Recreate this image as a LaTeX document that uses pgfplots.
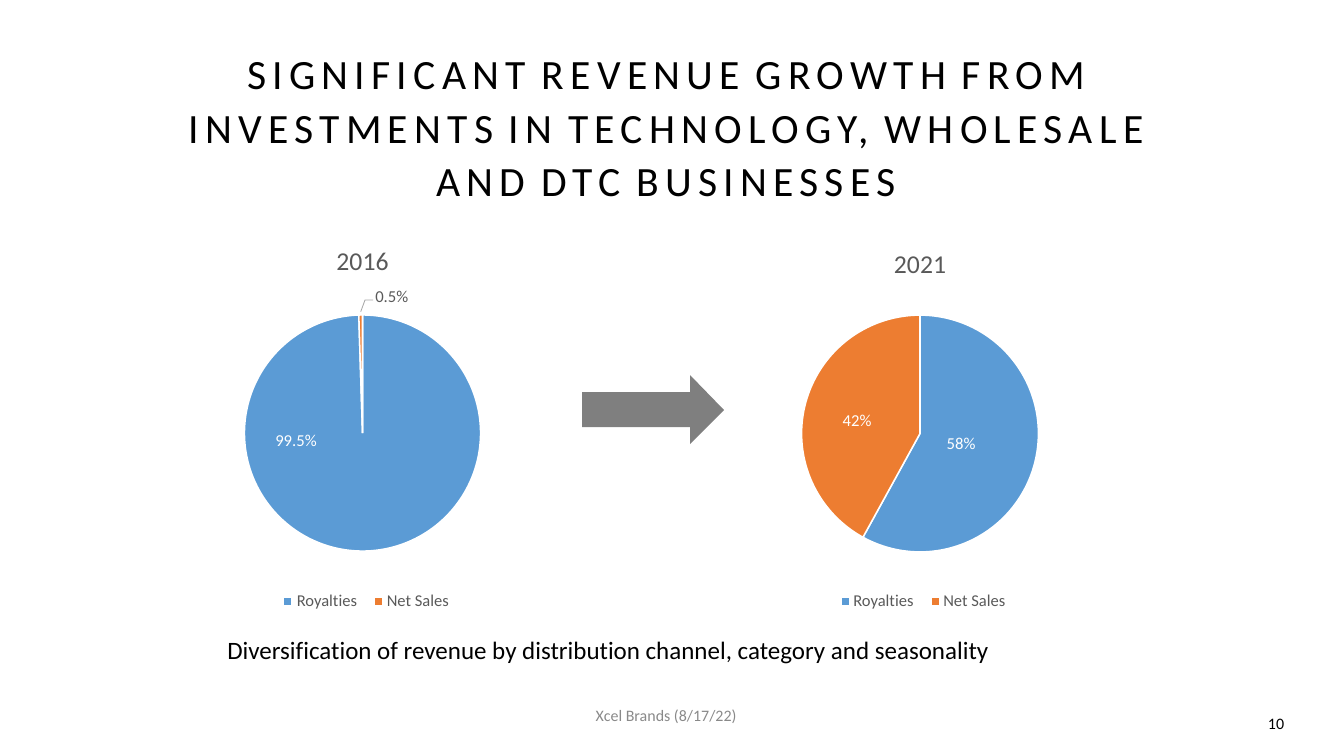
\documentclass[border=0pt]{standalone}
\usepackage{pgfplots}
\pgfplotsset{compat=1.18}
\usepackage{fontspec}
\setmainfont{Carlito}[Ligatures=NoCommon]
\newfontfamily\titlefont[LetterSpace=15,Ligatures=NoCommon]{Carlito}
\definecolor{royal}{HTML}{5B9BD5}
\definecolor{netsales}{HTML}{ED7D31}
\definecolor{arrowgray}{HTML}{7F7F7F}
\definecolor{labgray}{HTML}{595959}
\definecolor{footgray}{HTML}{898989}
\definecolor{leadgray}{HTML}{A6A6A6}
% data (percent of revenue)
\def\royA{99.5}\def\netA{0.5}
\def\royB{58}\def\netB{42}
\begin{document}%
\begin{tikzpicture}[x=0.72pt,y=-0.72pt]
\pgfmathsetmacro{\endRA}{90-3.6*\royA}
\pgfmathsetmacro{\endNA}{90+3.6*\netA}
\pgfmathsetmacro{\endRB}{90-3.6*\royB}
\path[use as bounding box] (0,0) rectangle (1333,749);
\coordinate (pieA) at (362.5,433);
\coordinate (pieB) at (920,433.5);
% title
\node[anchor=base,inner sep=0pt] at (666,89.5) {\titlefont\fontsize{30}{36}\selectfont SIGNIFICANT REVENUE GROWTH FROM};
\node[anchor=base,inner sep=0pt] at (666,143.3) {\titlefont\fontsize{30}{36}\selectfont INVESTMENTS IN TECHNOLOGY, WHOLESALE};
\node[anchor=base,inner sep=0pt] at (666,196.7) {\titlefont\fontsize{30}{36}\selectfont AND DTC BUSINESSES};
% pie 2016
\begin{axis}[at={(pieA)},anchor=center,scale only axis,width=170pt,height=170pt,
  xmin=-1,xmax=1,ymin=-1,ymax=1,hide axis,clip=false]
\addplot[fill=royal,draw=white,line width=1.1pt,domain=\endRA:90,samples=300,variable=\t]
  ({cos(\t)},{sin(\t)}) -- (axis cs:0,0) -- cycle;
\addplot[fill=netsales,draw=white,line width=1.1pt,domain=90:\endNA,samples=5,variable=\t]
  ({cos(\t)},{sin(\t)}) -- (axis cs:0,0) -- cycle;
\end{axis}
% pie 2021
\begin{axis}[at={(pieB)},anchor=center,scale only axis,width=170.5pt,height=170.5pt,
  xmin=-1,xmax=1,ymin=-1,ymax=1,hide axis,clip=false]
\addplot[fill=royal,draw=white,line width=1.1pt,domain=\endRB:90,samples=200,variable=\t]
  ({cos(\t)},{sin(\t)}) -- (axis cs:0,0) -- cycle;
\addplot[fill=netsales,draw=white,line width=1.1pt,domain=-270:\endRB,samples=200,variable=\t]
  ({cos(\t)},{sin(\t)}) -- (axis cs:0,0) -- cycle;
\end{axis}
% chart titles
\node[anchor=base,inner sep=0pt,text=labgray] at (362.5,270.5) {\fontsize{18.5}{22}\selectfont 2016};
\node[anchor=base,inner sep=0pt,text=labgray] at (920,273) {\fontsize{18.5}{22}\selectfont 2021};
% data labels
\draw[leadgray,line width=0.6pt] (360.7,311.7) -- (365,300) -- (373,300);
\node[anchor=base west,inner sep=0pt,text=labgray] at (375,302) {\fontsize{12}{14}\selectfont 0.5\%};
\node[inner sep=0pt,text=white] at (296,441) {\fontsize{12}{14}\selectfont 99.5\%};
\node[inner sep=0pt,text=white] at (857,421) {\fontsize{12}{14}\selectfont 42\%};
\node[inner sep=0pt,text=white] at (961,444) {\fontsize{12}{14}\selectfont 58\%};
% legends
\fill[royal] (284,597.5) rectangle (291,604.5);
\node[anchor=base west,inner sep=0pt,text=labgray] at (296.5,606) {\fontsize{11.9}{14}\selectfont Royalties};
\fill[netsales] (375,597.5) rectangle (382,604.5);
\node[anchor=base west,inner sep=0pt,text=labgray] at (386.5,606) {\fontsize{11.9}{14}\selectfont Net Sales};
\fill[royal] (842,597.5) rectangle (849,604.5);
\node[anchor=base west,inner sep=0pt,text=labgray] at (853,606) {\fontsize{11.9}{14}\selectfont Royalties};
\fill[netsales] (932,597.5) rectangle (939,604.5);
\node[anchor=base west,inner sep=0pt,text=labgray] at (943,606) {\fontsize{11.9}{14}\selectfont Net Sales};
% arrow
\fill[arrowgray] (582,392) -- (690,392) -- (690,375) -- (724,410) -- (690,444) -- (690,427) -- (582,427) -- cycle;
% subtitle
\node[anchor=base west,inner sep=0pt] at (227,659) {\fontsize{18}{22}\selectfont Diversification of revenue by distribution channel, category and seasonality};
% footer
\node[anchor=base,inner sep=0pt,text=footgray] at (666,721) {\fontsize{11.5}{14}\selectfont Xcel Brands (8/17/22)};
\node[anchor=base,inner sep=0pt] at (1276,729) {\fontsize{11.5}{14}\selectfont 10};
\end{tikzpicture}%
\end{document}
